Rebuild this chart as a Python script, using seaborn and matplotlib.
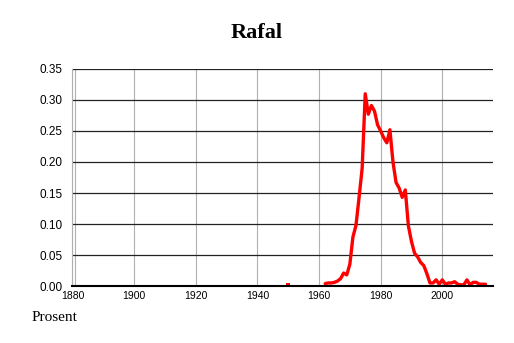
import matplotlib
matplotlib.use("Agg")
import numpy as np
import pandas as pd
import seaborn as sns
import matplotlib.pyplot as plt

# ---- data ----
years = list(range(1962, 2015))
values = [0.004, 0.005, 0.005, 0.006, 0.008, 0.012, 0.021, 0.018, 0.035, 0.079,
          0.098, 0.143, 0.190, 0.310, 0.277, 0.291, 0.282, 0.260, 0.250, 0.239,
          0.231, 0.252, 0.200, 0.167, 0.158, 0.143, 0.155, 0.097, 0.072, 0.053,
          0.047, 0.038, 0.033, 0.020, 0.005, 0.005, 0.010, 0.003, 0.010, 0.003,
          0.005, 0.005, 0.007, 0.003, 0.002, 0.002, 0.010, 0.002, 0.006, 0.006,
          0.003, 0.003, 0.003]
iso_years = [1950]
iso_values = [0.002]
x_ticks = [1880, 1900, 1920, 1940, 1960, 1980, 2000]
y_ticks = [0.00, 0.05, 0.10, 0.15, 0.20, 0.25, 0.30, 0.35]
title = "Rafal"
ylabel = "Prosent"

df = pd.DataFrame({"year": years, "value": values})
iso = pd.DataFrame({"year": iso_years, "value": iso_values})

sns.set_theme(style="white")
plt.rcParams["font.family"] = ["Liberation Sans", "DejaVu Sans"]
plt.rcParams["text.color"] = "black"

fig = plt.figure(figsize=(5.14, 3.43), dpi=100)
ax = fig.add_axes([0.141, 0.166, 0.819, 0.633])
ax.set_axisbelow(True)

sns.lineplot(data=df, x="year", y="value", color="red", lw=2.4, ax=ax)
sns.scatterplot(data=iso, x="year", y="value", marker="s", s=9, color="red",
                edgecolor="none", ax=ax)

ax.set_xlim(1880, 2016.6)
ax.set_ylim(0, 0.35)
ax.set_xticks(x_ticks)
ax.set_xticks(list(range(1880, 2016, 5)), minor=True)
ax.set_yticks(y_ticks)
ax.set_xticklabels([str(t) for t in x_ticks], fontsize=7.5)
ax.set_yticklabels([f"{t:.2f}" for t in y_ticks], fontsize=8.5)

ax.yaxis.grid(True, color="#222222", lw=0.9)
ax.xaxis.grid(True, color="#b0b0b0", lw=0.8)
ax.axvline(1880.8, color="#b0b0b0", lw=0.8, zorder=0)

for s in ["top", "right"]:
    ax.spines[s].set_visible(False)
ax.spines["left"].set_color("#b0b0b0")
ax.spines["left"].set_linewidth(0.8)
ax.spines["bottom"].set_color("black")
ax.spines["bottom"].set_linewidth(1.5)

ax.tick_params(axis="x", which="both", direction="in", length=3, width=0.6,
               color="#444444", pad=3.5, labelcolor="black")
ax.tick_params(axis="y", which="both", length=0, pad=7, labelcolor="black")
ax.set_xlabel("")
ax.set_ylabel("")

fig.text(0.4994, 0.904, title, ha="center", va="center", fontsize=16,
         fontweight="bold", color="black",
         family=["Liberation Serif", "DejaVu Serif"])
fig.text(0.062, 0.073, ylabel, ha="left", va="center", fontsize=11,
         color="black", family=["Liberation Serif", "DejaVu Serif"])

fig.savefig("out.png", dpi=100, facecolor="white")
